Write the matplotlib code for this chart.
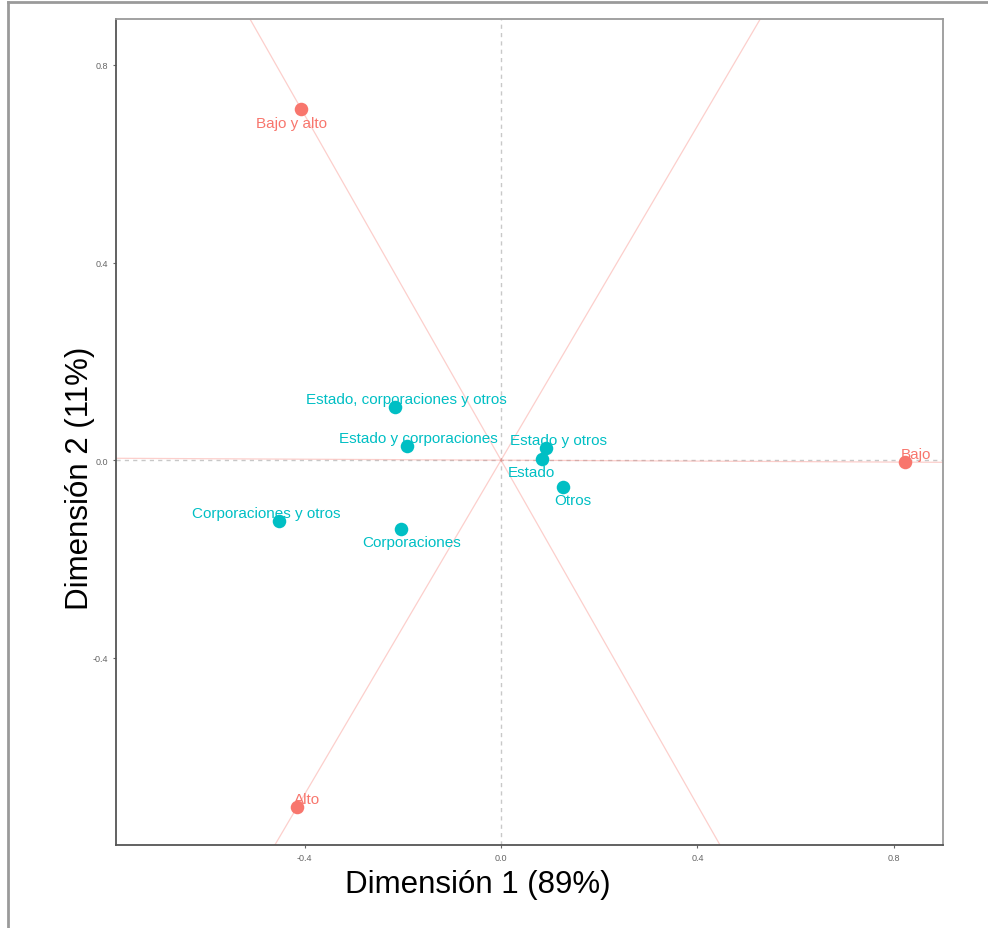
import matplotlib
matplotlib.use("Agg")
import matplotlib.pyplot as plt
from matplotlib.lines import Line2D
import numpy as np

# row categories (red) and column categories (teal) in the CA map
row_names = ["Bajo y alto", "Alto", "Bajo"]
row_x = [-0.407, -0.415, 0.823]
row_y = [0.711, -0.702, -0.004]

col_names = ["Estado, corporaciones y otros", "Estado y corporaciones",
             "Estado y otros", "Estado", "Otros",
             "Corporaciones y otros", "Corporaciones"]
col_x = [-0.216, -0.191, 0.092, 0.084, 0.126, -0.452, -0.204]
col_y = [0.107, 0.028, 0.024, 0.002, -0.055, -0.123, -0.140]

RED, TEAL = "#F8766D", "#00BFC4"
plt.rcParams["font.family"] = ["Liberation Sans", "DejaVu Sans"]

W, H = 988, 929
fig = plt.figure(figsize=(W / 100, H / 100), dpi=100)
ax = fig.add_axes([116 / W, 1 - 846 / H, 827 / W, 826 / H])
ax.set_xlim(-0.784, 0.900)
ax.set_ylim(-0.779, 0.893)

# zero reference lines
ax.axhline(0, color="#c8c8c8", lw=1, ls=(0, (3, 3)), zorder=1)
ax.axvline(0, color="#c8c8c8", lw=1, ls=(0, (3, 3)), zorder=1)

# rays through the origin for each row category
t = np.array([-5, 5])
for x, y in zip(row_x, row_y):
    ax.plot(t * x, t * y, color=RED, lw=0.9, alpha=0.35, zorder=1)

ax.scatter(row_x, row_y, s=95, color=RED, zorder=3, linewidths=0)
ax.scatter(col_x, col_y, s=95, color=TEAL, zorder=3, linewidths=0)

# label offsets in points (dx, dy)
row_off = [(-7, -10), (7, 6), (8, 6)]
col_off = [(8, 6), (8, 6), (9, 6), (-8, -9), (7, -9), (-9, 6), (8, -9)]
for name, x, y, (dx, dy) in zip(row_names, row_x, row_y, row_off):
    ax.annotate(name, (x, y), xytext=(dx, dy), textcoords="offset points",
                ha="center", va="center", color=RED, fontsize=11, zorder=4)
for name, x, y, (dx, dy) in zip(col_names, col_x, col_y, col_off):
    ax.annotate(name, (x, y), xytext=(dx, dy), textcoords="offset points",
                ha="center", va="center", color=TEAL, fontsize=11, zorder=4)

ax.set_xticks([-0.4, 0.0, 0.4, 0.8])
ax.set_yticks([-0.4, 0.0, 0.4, 0.8])
ax.set_xticklabels(["-0.4", "0.0", "0.4", "0.8"])
ax.set_yticklabels(["-0.4", "0.0", "0.4", "0.8"])
ax.tick_params(labelsize=6.5, colors="#666666", length=2.5, width=0.8)
for sp in ("left", "bottom"):
    ax.spines[sp].set_color("#555555")
    ax.spines[sp].set_linewidth(1.3)
for sp in ("top", "right"):
    ax.spines[sp].set_color("#9a9a9a")
    ax.spines[sp].set_linewidth(1.3)

# axis titles
fig.text(478 / W, 1 - 885 / H, "Dimensión 1 (89%)", fontsize=22.5,
         ha="center", va="center", color="black")
fig.text(80 / W, 1 - 478 / H, "Dimensión 2 (11%)", fontsize=22.5,
         ha="center", va="center", rotation=90, color="black")

# outer frame lines
fig.add_artist(Line2D([8 / W, 1], [1 - 3 / H, 1 - 3 / H],
                      transform=fig.transFigure, color="#9a9a9a", lw=2))
fig.add_artist(Line2D([8 / W, 8 / W], [0, 1 - 3 / H],
                      transform=fig.transFigure, color="#9a9a9a", lw=2))

fig.savefig("out.png", dpi=100)
